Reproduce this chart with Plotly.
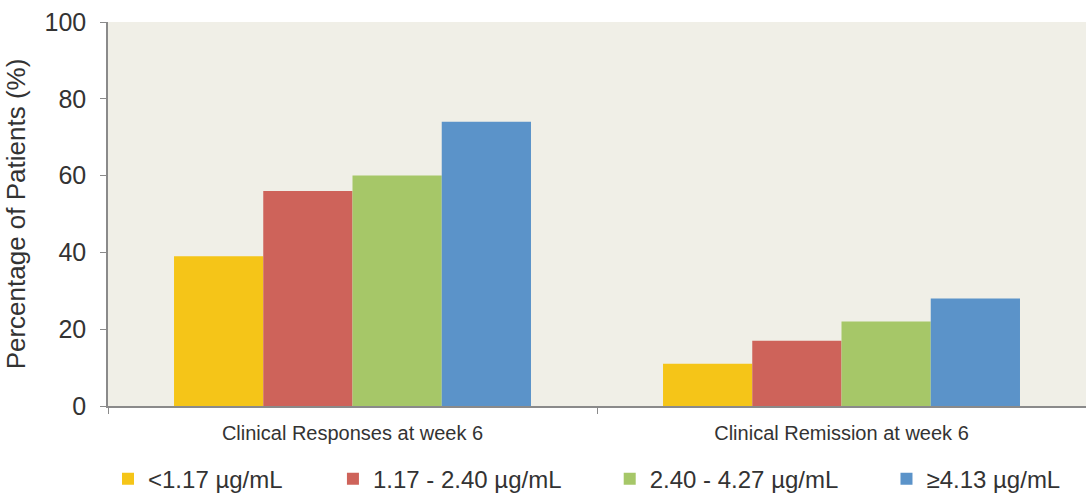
import plotly.graph_objects as go

categories = ["Clinical Responses at week 6", "Clinical Remission at week 6"]
series_names = ["<1.17 µg/mL", "1.17 - 2.40 µg/mL", "2.40 - 4.27 µg/mL", "≥4.13 µg/mL"]
series_values = [
    [39, 11],
    [56, 17],
    [60, 22],
    [74, 28],
]
colors = ["#F5C518", "#CE635A", "#A6C768", "#5B93C9"]

FONT = "Liberation Sans, Arial, sans-serif"

# one legend per series so each entry sits where the original puts it
legend_ids = ["legend", "legend2", "legend3", "legend4"]
legend_x = [0.0, 0.23, 0.513, 0.796]

fig = go.Figure()
for name, vals, c, lg in zip(series_names, series_values, colors, legend_ids):
    fig.add_trace(go.Bar(
        x=categories, y=vals, name=name, legend=lg,
        marker=dict(color=c, line=dict(width=0)),
    ))

legends = {
    lg: dict(x=lx, xanchor="left", yref="container", y=0.032, yanchor="middle",
             font=dict(size=24), itemwidth=30, bgcolor="rgba(0,0,0,0)")
    for lg, lx in zip(legend_ids, legend_x)
}

fig.update_layout(
    barmode="group",
    bargap=0.27,
    bargroupgap=0,
    width=1086, height=495,
    margin=dict(l=108, r=0, t=22, b=89),
    plot_bgcolor="#F0EFE7",
    paper_bgcolor="white",
    font=dict(family=FONT, size=21, color="#333333"),
    showlegend=True,
    **legends,
)
fig.update_yaxes(
    range=[0, 100], dtick=20, showgrid=False, zeroline=False, automargin=False,
    showline=True, linecolor="#8a8a8a", linewidth=1.5,
    ticks="outside", ticklen=6, tickcolor="#8a8a8a", ticklabelstandoff=9,
    tickfont=dict(size=25),
    title=dict(text="Percentage of Patients (%)", standoff=11, font=dict(size=26)),
)
fig.update_xaxes(
    showgrid=False, showline=True, linecolor="#8a8a8a", linewidth=1.5, automargin=False,
    ticks="outside", ticklen=6, tickcolor="#8a8a8a", tickson="boundaries",
    ticklabelstandoff=8, tickfont=dict(size=20),
)

fig.write_html("out.html", config={"displayModeBar": False},
               post_script="document.body.style.margin='0';")
